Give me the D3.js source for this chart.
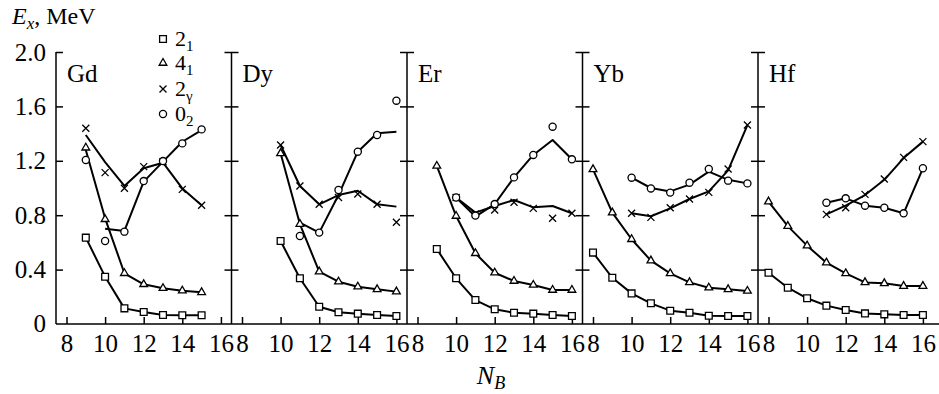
<!DOCTYPE html>
<html>
<head>
<meta charset="utf-8">
<script src="https://cdn.jsdelivr.net/npm/d3@7"></script>
<style>
  body { margin: 0; background: #fff; }
  svg text { font-family: "Liberation Serif", "DejaVu Serif", serif; }
</style>
</head>
<body>
<div id="chart"></div>
<script>
// neutron boson number, common x grid
const nB = [8, 9, 10, 11, 12, 13, 14, 15, 16];
const nuclei = ["Gd", "Dy", "Er", "Yb", "Hf"];
const xTicks = [8, 10, 12, 14, 16];
const yTicks = [0, 0.4, 0.8, 1.2, 1.6, 2.0];
const yTickLabels = ["0", "0.4", "0.8", "1.2", "1.6", "2.0"];

// experiment (markers), MeV
const gd21 = [null, 0.635, 0.348, 0.115, 0.088, 0.066, 0.064, 0.064, null];
const gd41 = [null, 1.296, 0.770, 0.373, 0.292, 0.263, 0.245, 0.233, null];
const gd2g = [null, 1.439, 1.113, 0.998, 1.157, 1.193, 0.990, 0.873, null];
const gd02 = [null, 1.206, 0.610, 0.679, 1.051, 1.198, 1.328, 1.431, null];

const dy21 = [null, null, 0.610, 0.336, 0.127, 0.086, 0.076, 0.066, 0.059];
const dy41 = [null, null, 1.255, 0.735, 0.385, 0.311, 0.274, 0.255, 0.238];
const dy2g = [null, null, 1.316, 1.015, 0.880, 0.930, 0.956, 0.880, 0.748];
const dy02 = [null, null, null, 0.647, 0.672, 0.985, 1.267, 1.390, 1.642];

const er21 = [null, 0.551, 0.336, 0.176, 0.108, 0.083, 0.076, 0.066, 0.059];
const er41 = [null, 1.162, 0.794, 0.520, 0.377, 0.316, 0.287, 0.250, 0.250];
const er2g = [null, null, 0.930, 0.809, 0.838, 0.895, 0.850, 0.777, 0.814];
const er02 = [null, null, 0.930, 0.797, 0.882, 1.078, 1.243, 1.451, 1.211];

const yb21 = [0.525, 0.340, 0.225, 0.152, 0.098, 0.083, 0.061, 0.059, 0.059];
const yb41 = [1.137, 0.819, 0.623, 0.466, 0.372, 0.306, 0.267, 0.255, 0.243];
const yb2g = [null, null, 0.814, 0.784, 0.855, 0.919, 0.968, 1.140, 1.463];
const yb02 = [null, null, 1.076, 0.997, 0.966, 1.039, 1.140, 1.054, 1.034];

const hf21 = [0.377, 0.267, 0.189, 0.135, 0.103, 0.078, 0.071, 0.066, 0.066];
const hf41 = [0.900, 0.720, 0.576, 0.451, 0.372, 0.306, 0.299, 0.279, 0.279];
const hf2g = [null, null, null, 0.806, 0.855, 0.953, 1.066, 1.225, 1.341];
const hf02 = [null, null, null, 0.892, 0.924, 0.870, 0.855, 0.814, 1.145];

// calculation (lines), where it differs from the markers
const gdT41 = [null, 1.280, 0.777, 0.373, 0.292, 0.263, 0.245, 0.233, null];
const gdT2g = [null, 1.390, 1.190, 1.015, 1.145, 1.186, 0.997, 0.873, null];
const gdT02 = [null, null, 0.700, 0.684, 1.047, 1.194, 1.340, 1.426, null];
const dyT2g = [null, null, 1.316, 1.015, 0.880, 0.948, 0.980, 0.880, 0.863];
const dyT02 = [null, null, null, 0.745, 0.672, 0.948, 1.267, 1.402, 1.414];
const erT2g = [null, null, 0.930, 0.819, 0.868, 0.912, 0.858, 0.868, 0.814];
const erT02 = [null, null, 0.930, 0.790, 0.882, 1.078, 1.243, 1.353, 1.211];
const ybT2g = [null, null, 0.814, 0.792, 0.850, 0.919, 0.975, 1.130, 1.463];
const ybT02 = [null, null, 1.076, 1.000, 0.975, 1.025, 1.120, 1.060, 1.034];
const hfT2g = [null, null, null, 0.806, 0.870, 0.948, 1.060, 1.220, 1.341];

const expt = [
  [gd21, gd41, gd2g, gd02],
  [dy21, dy41, dy2g, dy02],
  [er21, er41, er2g, er02],
  [yb21, yb41, yb2g, yb02],
  [hf21, hf41, hf2g, hf02]
];
const theory = [
  [gd21, gdT41, gdT2g, gdT02],
  [dy21, dy41, dyT2g, dyT02],
  [er21, er41, erT2g, erT02],
  [yb21, yb41, ybT2g, ybT02],
  [hf21, hf41, hfT2g, hf02]
];

const width = 939, height = 394;
const left0 = 56, panelW = 175.5;
const plotTop = 52, plotBottom = 324;
const fontSize = 25;
const serif = "'Liberation Serif', 'DejaVu Serif', serif";

const svg = d3.select("#chart").append("svg")
  .attr("width", width)
  .attr("height", height)
  .style("display", "block");

const x = d3.scaleLinear().domain([7.456, 16.549]).range([0, panelW]);
const y = d3.scaleLinear().domain([0, 2.0]).range([plotBottom, plotTop]);

const symbols = [
  d3.symbol().type(d3.symbolSquare).size(46)(),
  d3.symbol().type(d3.symbolTriangle).size(26)(),
  "M-3.5,-3.5L3.5,3.5M-3.5,3.5L3.5,-3.5",
  d3.symbol().type(d3.symbolCircle).size(40)()
];

const line = d3.line()
  .defined(d => d.v != null)
  .x(d => x(d.n))
  .y(d => y(d.v));

// bottom line across all panels
svg.append("line")
  .attr("x1", left0).attr("x2", width)
  .attr("y1", plotBottom).attr("y2", plotBottom)
  .attr("stroke", "#000").attr("stroke-width", 1.5);

nuclei.forEach((name, i) => {
  const g = svg.append("g")
    .attr("transform", "translate(" + (left0 + i * panelW) + ",0)");

  // left axis of the panel, ticks pointing inward
  const yAxis = d3.axisLeft(y)
    .tickValues(yTicks.slice(1))
    .tickSizeInner(-7)
    .tickSizeOuter(0)
    .tickPadding(10)
    .tickFormat(d => i === 0 ? yTickLabels[yTicks.indexOf(d)] : "");
  const ya = g.append("g").call(yAxis);
  ya.select(".domain").attr("d", "M0," + plotBottom + "V" + plotTop);
  if (i === 0) {
    ya.append("g").attr("class", "tick")
      .attr("transform", "translate(0," + y(0) + ")")
      .append("text").attr("x", -10).attr("dy", "0.32em")
      .attr("text-anchor", "end")
      .attr("fill", "#000").text(yTickLabels[0]);
  }

  // right-side ticks (all panels but the last)
  if (i < nuclei.length - 1) {
    const ra = g.append("g")
      .attr("transform", "translate(" + panelW + ",0)")
      .call(d3.axisLeft(y).tickValues(yTicks.slice(1)).tickSize(7).tickFormat(""));
    ra.select(".domain").remove();
  }

  // x axis
  const xa = g.append("g")
    .attr("transform", "translate(0," + plotBottom + ")")
    .call(d3.axisBottom(x).tickValues(xTicks).tickSizeInner(-7).tickSizeOuter(0).tickPadding(10).tickFormat(d3.format("d")));
  xa.select(".domain").remove();

  g.selectAll("g").attr("font-family", serif);
  g.selectAll(".tick line").attr("stroke", "#000").attr("stroke-width", 1.5);
  g.selectAll(".domain").attr("stroke", "#000").attr("stroke-width", 1.5);
  g.selectAll(".tick text")
    .attr("fill", "#000")
    .attr("font-family", serif)
    .style("font-size", fontSize + "px");

  g.append("text")
    .attr("x", 11).attr("y", 82)
    .attr("font-family", serif)
    .style("font-size", fontSize + "px")
    .text(name);

  // calculated curves
  theory[i].forEach(vals => {
    const pts = nB.map((n, k) => ({ n: n, v: vals[k] }));
    g.append("path")
      .attr("d", line(pts))
      .attr("fill", "none")
      .attr("stroke", "#000")
      .attr("stroke-width", 2)
      .attr("stroke-linejoin", "round");
  });

  // measured points
  expt[i].forEach((vals, s) => {
    const pts = nB.map((n, k) => ({ n: n, v: vals[k] })).filter(d => d.v != null);
    g.selectAll(null)
      .data(pts)
      .enter()
      .append("path")
      .attr("d", symbols[s])
      .attr("transform", d => "translate(" + x(d.n) + "," + y(d.v) + ")")
      .attr("fill", s === 2 ? "none" : "#fff")
      .attr("stroke", "#000")
      .attr("stroke-width", 1.3);
  });
});

// legend
const legend = [["2", "1"], ["4", "1"], ["2", "γ"], ["0", "2"]];
const legY = [39, 63, 89, 114];
legend.forEach((lab, s) => {
  svg.append("path")
    .attr("d", symbols[s])
    .attr("transform", "translate(163," + legY[s] + ")")
    .attr("fill", s === 2 ? "none" : "#fff")
    .attr("stroke", "#000")
    .attr("stroke-width", 1.3);
  const t = svg.append("text")
    .attr("x", 175).attr("y", legY[s] + 7)
    .attr("font-family", serif)
    .style("font-size", "22px");
  t.append("tspan").text(lab[0]);
  t.append("tspan").attr("dy", 5).style("font-size", "15px").text(lab[1]);
});

// axis titles
const yt = svg.append("text").attr("x", 12).attr("y", 24)
  .attr("font-family", serif).style("font-size", "24px");
yt.append("tspan").style("font-style", "italic").text("E");
yt.append("tspan").attr("dy", 5).style("font-style", "italic").style("font-size", "17px").text("x");
yt.append("tspan").attr("dy", -5).text(", MeV");

const xt = svg.append("text").attr("x", 491).attr("y", 384)
  .attr("font-family", serif)
  .attr("text-anchor", "middle").style("font-size", "26px");
xt.append("tspan").style("font-style", "italic").text("N");
xt.append("tspan").attr("dy", 5).style("font-style", "italic").style("font-size", "18px").text("B");
</script>
</body>
</html>
